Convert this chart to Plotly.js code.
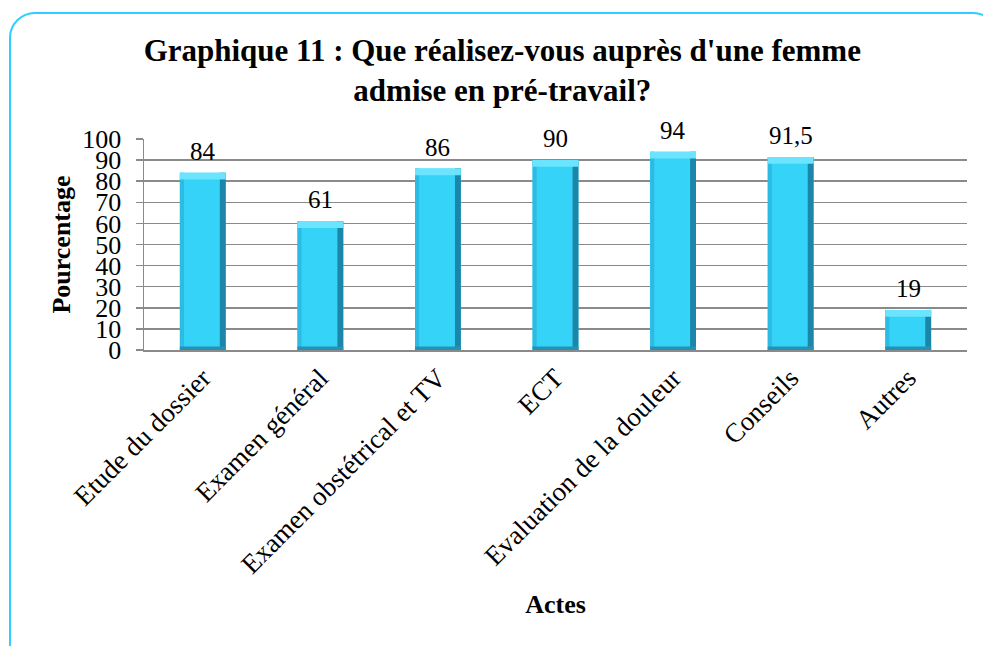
<!DOCTYPE html>
<html>
<head>
<meta charset="utf-8">
<script src="https://cdn.plot.ly/plotly-3.0.1.min.js"></script>
<style>
  html, body { margin: 0; padding: 0; background: #fff; width: 983px; height: 646px; overflow: hidden; }
  #frame { position: absolute; left: 9px; top: 12px; width: 990px; height: 660px; border: 2px solid #33ccff; border-radius: 26px; box-sizing: border-box; }
  #chart { position: absolute; left: 0; top: 0; width: 983px; height: 646px; }
</style>
</head>
<body>
<div id="frame"></div>
<div id="chart"></div>
<script>
const categories = ["Etude du dossier", "Examen général", "Examen obstétrical et TV", "ECT", "Evaluation de la douleur", "Conseils", "Autres"];
const values = [84, 61, 86, 90, 94, 91.5, 19];
const valueLabels = ["84", "61", "86", "90", "94", "91,5", "19"];
const yTicks = [0, 10, 20, 30, 40, 50, 60, 70, 80, 90, 100];

const serif = "Liberation Serif";
const barW = 0.39;
const capH = 3.2;

const traces = [
  { type: "bar", x: categories, y: values, width: barW, marker: { color: "#36d3f8", line: { width: 0 } }, hoverinfo: "skip" },
  { type: "bar", x: categories, y: values, base: 0, width: 0.035, offset: -barW / 2, marker: { color: "#2cbbe3" }, hoverinfo: "skip" },
  { type: "bar", x: categories, y: values, base: 0, width: 0.05, offset: barW / 2 - 0.05, marker: { color: "#1c86a8" }, hoverinfo: "skip" },
  { type: "bar", x: categories, y: values.map(() => capH), base: values.map(v => v - capH), width: barW, marker: { color: "#6ae4ff" }, hoverinfo: "skip" },
  { type: "bar", x: categories, y: values.map(() => 1.6), base: 0, width: barW, marker: { color: "#2492b8" }, hoverinfo: "skip" }
];

const annotations = categories.map((c, i) => ({
  x: c, y: values[i], xref: "x", yref: "y", text: valueLabels[i], showarrow: false,
  yanchor: "bottom", yshift: 6, font: { family: serif, size: 25, color: "#000" }
}));

const layout = {
  width: 983, height: 646,
  margin: { l: 144, r: 16, t: 139, b: 296 },
  paper_bgcolor: "rgba(0,0,0,0)", plot_bgcolor: "rgba(0,0,0,0)",
  showlegend: false, barmode: "overlay",
  title: {
    text: "<b>Graphique 11 : Que réalisez-vous auprès d'une femme<br>admise en pré-travail?</b>",
    font: { family: serif, size: 31, color: "#000" },
    x: 0.511, xanchor: "center", y: 0.906, yanchor: "top"
  },
  xaxis: {
    type: "category", tickangle: -45, showgrid: false,
    showline: true, linecolor: "#8a8a8a", linewidth: 1.5,
    ticks: "", tickfont: { family: serif, size: 27, color: "#000" },
    title: { text: "<b>Actes</b>", font: { family: serif, size: 26, color: "#000" }, standoff: 16 }
  },
  yaxis: {
    range: [0, 100], tickvals: yTicks, ticktext: yTicks.map(String),
    showgrid: true, gridcolor: "#8a8a8a", gridwidth: 1.5,
    showline: true, linecolor: "#8a8a8a", linewidth: 1.5,
    ticks: "outside", ticklen: 7, tickcolor: "#8a8a8a", tickwidth: 1.5,
    ticklabelstandoff: 9,
    tickfont: { family: serif, size: 26, color: "#000" },
    zeroline: false,
    title: { text: "<b>Pourcentage</b>", font: { family: serif, size: 26, color: "#000" }, standoff: 4 }
  },
  annotations: annotations
};

Plotly.newPlot("chart", traces, layout, { displayModeBar: false, staticPlot: true });
</script>
</body>
</html>
